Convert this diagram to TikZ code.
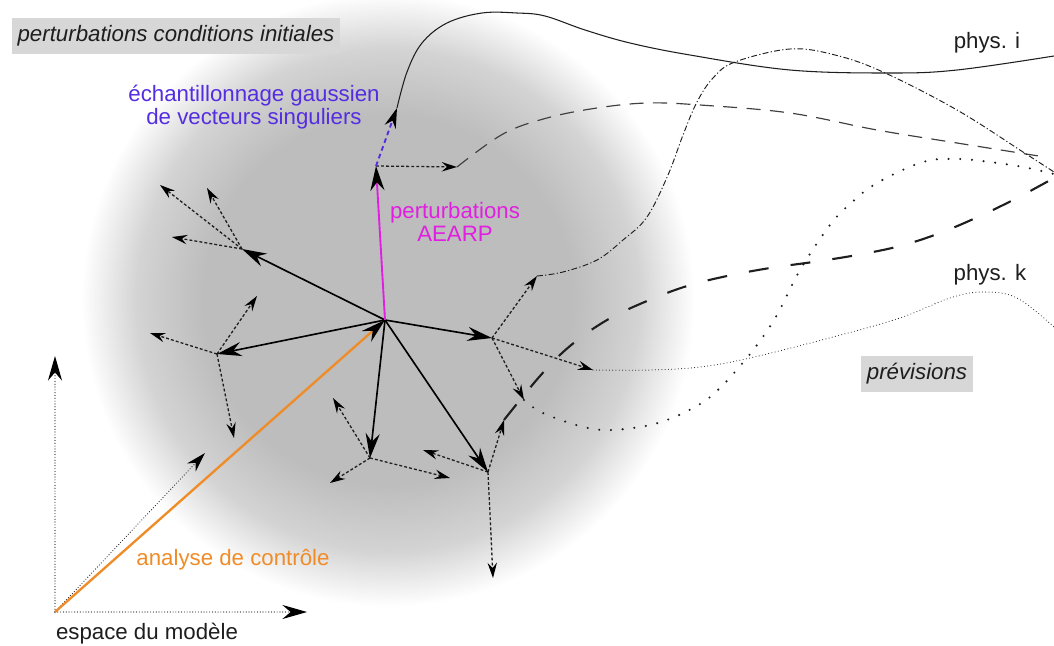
\documentclass[tikz,border=0pt]{standalone}
\usepackage{fontspec}
\setmainfont{Liberation Sans}
\usetikzlibrary{arrows.meta}
\definecolor{blobgray}{gray}{0.74}
\definecolor{blobmid}{gray}{0.83}
\definecolor{boxgray}{RGB}{215,215,215}
\definecolor{bluec}{RGB}{85,45,225}
\definecolor{magc}{RGB}{225,30,225}
\definecolor{orangec}{RGB}{240,140,40}
\definecolor{inkc}{RGB}{30,30,30}
\pgfdeclareradialshading{blob}{\pgfpoint{0bp}{0bp}}{color(0bp)=(blobgray); color(15bp)=(blobgray); color(20.5bp)=(blobmid); color(25bp)=(white); color(50bp)=(white)}
\newcommand{\fs}{\fontsize{19}{19.6}\selectfont}
\begin{document}
\begin{tikzpicture}[x=0.03cm,y=-0.03cm,
  bigtip/.tip={Stealth[length=21pt,width=12pt,inset=7pt,color=black]},
  midtip/.tip={Stealth[length=17pt,width=10pt,inset=5.5pt,color=black]},
  smalltip/.tip={Stealth[length=13pt,width=8pt,inset=4.5pt,color=black]},
  prim/.style={line width=1.4pt,draw=black,-bigtip},
  sec/.style={line width=1.1pt,draw=inkc,dash pattern=on 2.5pt off 1.8pt,-smalltip},
  axisline/.style={line width=1pt,draw=inkc,line cap=round,dash pattern=on 0pt off 2.4pt},
  solidcurve/.style={line width=0.9pt,draw=inkc},
  medcurve/.style={line width=1pt,draw=inkc!85,dash pattern=on 12pt off 8pt},
  dashdotcurve/.style={line width=0.8pt,draw=inkc,dash pattern=on 5pt off 2pt on 1pt off 2pt},
  finedots/.style={line width=0.9pt,draw=inkc,line cap=round,dash pattern=on 0pt off 2.8pt},
  coarsedots/.style={line width=2pt,draw=inkc,line cap=round,dash pattern=on 0pt off 10pt},
  longdash/.style={line width=1.8pt,draw=inkc,dash pattern=on 17pt off 19pt},
  lbl/.style={font=\fs,inner sep=0pt,text=inkc},
  lbox/.style={font=\fs\itshape,fill=boxgray,text=inkc,inner xsep=5pt,inner ysep=0pt,minimum height=30pt}]
\fill[white] (0,0) rectangle (1054,646);
\useasboundingbox (0,0) rectangle (1054,646);
\shade[shading=blob] (388,300) circle[radius=9.2cm];

% points
\coordinate (O) at (55,612);
\coordinate (Oy) at (55,356);
\coordinate (Ox) at (307,612);
\coordinate (Od) at (205,453);
\coordinate (C) at (385,320);
\coordinate (A1) at (242,249);
\coordinate (A2) at (217,354);
\coordinate (A3) at (376,166);
\coordinate (A4) at (492,338);
\coordinate (A5) at (370,458);
\coordinate (A6) at (488,472);
\coordinate (a1a) at (160,185);
\coordinate (a1b) at (207,188);
\coordinate (a1c) at (172,237);
\coordinate (a2a) at (150,333);
\coordinate (a2b) at (257,296);
\coordinate (a2c) at (234,438);
\coordinate (B) at (397,108);
\coordinate (D0) at (457,167);
\coordinate (DD0) at (537,276);
\coordinate (K0) at (593,370);
\coordinate (Q0) at (524,400);
\coordinate (a5a) at (333,398);
\coordinate (a5b) at (330,483);
\coordinate (a5c) at (450,478);
\coordinate (L0) at (504,420);
\coordinate (a6b) at (423,450);
\coordinate (a6c) at (493,578);

% model space axes
\draw[axisline,-bigtip] (O) -- (Oy);
\draw[axisline,-bigtip] (O) -- (Ox);
\draw[axisline,-midtip] (O) -- (Od);

% forecast trajectories
\draw[solidcurve] plot[smooth,tension=0.6] coordinates {(B) (407,72) (422,43) (447,23) (482,13) (517,13) (545,16) (585,30) (630,43) (690,55) (790,70) (890,73) (957,70) (1054,56)};
\draw[medcurve] plot[smooth,tension=0.6] coordinates {(D0) (503,134) (547,118) (597,108) (647,103) (700,105) (790,113) (877,130) (957,143) (1045,157)};
\draw[dashdotcurve] plot[smooth,tension=0.6] coordinates {(DD0) (563,272) (597,260) (623,240) (647,217) (668,175) (683,135) (697,102) (713,78) (735,62) (790,49) (835,55) (883,72) (957,110) (1023,152) (1054,172)};
\draw[finedots] plot[smooth,tension=0.6] coordinates {(K0) (650,370) (700,367) (750,358) (833,337) (900,318) (950,298) (983,292) (1017,298) (1054,327)};
\draw[coarsedots] plot[smooth,tension=0.6] coordinates {(Q0) (545,414) (593,429) (633,428) (667,420) (700,404) (720,388) (740,366) (757,345) (777,315) (800,270) (830,225) (850,204) (877,183) (923,162) (957,159) (990,162) (1023,167) (1054,174)};
\draw[longdash] plot[smooth,tension=0.6] coordinates {(L0) (540,376) (570,346) (607,320) (647,301) (687,286) (727,276) (770,268) (813,262) (857,255) (900,246) (940,233) (980,216) (1017,198) (1054,178)};

% secondary perturbations
\draw[sec] (A1) -- (a1a);
\draw[sec] (A1) -- (a1b);
\draw[sec] (A1) -- (a1c);
\draw[sec] (A2) -- (a2a);
\draw[sec] (A2) -- (a2b);
\draw[sec] (A2) -- (a2c);
\draw[sec] (A3) -- (D0);
\draw[sec] (A4) -- (DD0);
\draw[sec] (A4) -- (K0);
\draw[sec] (A4) -- (Q0);
\draw[sec] (A5) -- (a5a);
\draw[sec] (A5) -- (a5b);
\draw[sec] (A5) -- (a5c);
\draw[sec] (A6) -- (L0);
\draw[sec] (A6) -- (a6b);
\draw[sec] (A6) -- (a6c);

% singular vectors sampling
\draw[line width=1.6pt,draw=bluec,dash pattern=on 4pt off 3pt,-midtip] (A3) -- (B);

% primary perturbations
\draw[prim] (C) -- (A1);
\draw[prim] (C) -- (A2);
\draw[prim] (C) -- (A4);
\draw[prim] (C) -- (A5);
\draw[prim] (C) -- (A6);
\draw[line width=1.6pt,draw=magc,-bigtip] (C) -- (A3);
\draw[line width=2pt,draw=orangec,-bigtip] (O) -- (C);

% labels
\node[lbox] (pci) at (176,36) {perturbations conditions initiales};
\node[lbox] (prev) at (917,374) {prévisions};
\node[lbl,text=bluec,align=center] (sv) at (254,107) {échantillonnage gaussien\\de vecteurs singuliers};
\node[lbl,text=magc,align=center] (aearp) at (455,222) {perturbations\\AEARP};
\node[lbl] (physi) at (987,43) {phys. i};
\node[lbl] (physk) at (990,275) {phys. k};
\node[lbl,text=orangec] (ac) at (233,560) {analyse de contrôle};
\node[lbl] (esp) at (147,634) {espace du modèle};
\end{tikzpicture}
\end{document}
